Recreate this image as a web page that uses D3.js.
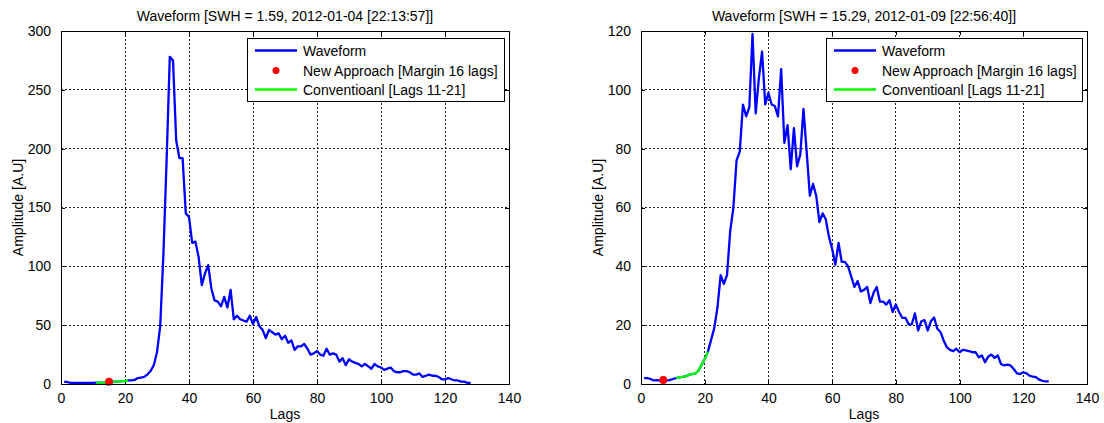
<!DOCTYPE html>
<html>
<head>
<meta charset="utf-8">
<script src="https://cdn.jsdelivr.net/npm/d3@7"></script>
<style>
  html, body { margin: 0; padding: 0; background: #fff; }
  svg { display: block; font-family: "Liberation Sans", Arial, Helvetica, sans-serif; }
</style>
</head>
<body>
<svg id="chart" width="1104" height="423"></svg>
<script>
// ---------------- data ----------------
const lags = d3.range(1, 129);

const leftTitle = "Waveform [SWH = 1.59, 2012-01-04 [22:13:57]]";
const rightTitle = "Waveform [SWH = 15.29, 2012-01-09 [22:56:40]]";

const xTicks = [0, 20, 40, 60, 80, 100, 120, 140];
const leftYTicks = [0, 50, 100, 150, 200, 250, 300];
const rightYTicks = [0, 20, 40, 60, 80, 100, 120];

const leftWave = [
  2, 1.5, 1, 1, 1, 1, 1, 1, 1, 1,
  1.2, 1.2, 1.2, 1.2, 2, 2, 2, 2, 2.5, 2.5,
  3, 3, 3.5, 5, 5.5, 6, 8, 11, 16, 27,
  49, 110, 190, 278, 275, 207, 192, 192, 145, 142,
  120, 121, 108, 84, 94, 101, 81, 71, 70, 66,
  74, 65, 80, 55, 58, 55, 54, 53, 58, 51,
  57, 49, 46, 39, 46, 44, 42, 43, 38, 41,
  35, 37, 29, 32, 32, 34, 30, 25, 26, 28,
  25, 24, 30, 25, 26, 25, 19, 22, 16, 21,
  19, 18, 17, 15, 17, 15, 13, 17, 15, 14,
  12, 13, 14, 11, 10, 10, 11, 11, 10, 8,
  8, 9, 6, 7, 8, 7, 7, 6, 4, 4,
  5, 4, 3, 3, 2, 2, 1, 1
];

const rightWave = [
  2.0, 2.0, 1.7, 1.2, 1.3, 1.2, 1.4, 1.2, 1.3, 1.7,
  2.0, 2.3, 2.4, 2.6, 3.1, 3.4, 3.5, 4.5, 6.5, 8.5,
  11, 15, 19, 26, 37, 34, 37, 52, 60, 76,
  79, 95, 91, 94, 119, 92, 104, 113, 95, 99,
  95, 94.5, 91, 107, 82, 88, 73, 87, 74, 78,
  93.5, 79, 64, 68, 64, 55, 58, 56, 50, 46,
  40.5, 48, 41.5, 41.5, 40, 36.5, 33, 35, 31.5, 32,
  33, 27.5, 31, 33, 28, 28, 27, 28.5, 24.5, 27,
  24.5, 22.5, 22.5, 20.3, 20.3, 24, 18.2, 21.3, 21.7, 18.2,
  21.3, 22.6, 18.8, 17.7, 14.8, 12.5, 11.6, 11.2, 12, 10.8,
  11.6, 11.4, 11.2, 10.8, 10.8, 9.1, 9.7, 7.4, 9.3, 10,
  8.9, 9.7, 6.8, 6.3, 6.6, 6.3, 5.1, 3.6, 3.4, 4,
  3.6, 2.8, 2.5, 2.3, 1.5, 1.1, 0.9, 0.9
];

const conventionalLags = [11, 21];
const leftNewApproach = { lag: 15, value: 2 };
const rightNewApproach = { lag: 7, value: 1.4 };

const legendLabels = ["Waveform", "New Approach [Margin 16 lags]", "Conventioanl [Lags 11-21]"];
const xLabel = "Lags";
const yLabel = "Amplitude [A.U]";

// ---------------- drawing ----------------
const svg = d3.select("#chart");
const FS = 14;

function drawPanel(opt) {
  const { left, right, top, bottom, yMax, yTicks, values, title, dot, legendLeft } = opt;
  const x = d3.scaleLinear().domain([0, 140]).range([left, right]);
  const y = d3.scaleLinear().domain([0, yMax]).range([bottom, top]);
  const g = svg.append("g");

  g.append("rect").attr("x", left).attr("y", top)
    .attr("width", right - left).attr("height", bottom - top).attr("fill", "#fff");

  // grid
  g.append("g").selectAll("line").data(xTicks.filter(t => t > 0 && t < 140)).join("line")
    .attr("x1", d => x(d)).attr("x2", d => x(d)).attr("y1", top).attr("y2", bottom)
    .attr("stroke", "#000").attr("stroke-width", 0.9).attr("stroke-dasharray", "2,2")
    .attr("shape-rendering", "crispEdges");
  g.append("g").selectAll("line").data(yTicks.filter(t => t > 0 && t < yMax)).join("line")
    .attr("y1", d => y(d)).attr("y2", d => y(d)).attr("x1", left).attr("x2", right)
    .attr("stroke", "#000").attr("stroke-width", 0.9).attr("stroke-dasharray", "2,2")
    .attr("shape-rendering", "crispEdges");

  // axes
  const ax = g.append("g").attr("transform", `translate(0,${bottom})`)
    .call(d3.axisBottom(x).tickValues(xTicks).tickSize(-4).tickPadding(9).tickFormat(d3.format("d")));
  const axTop = g.append("g").attr("transform", `translate(0,${top})`)
    .call(d3.axisTop(x).tickValues(xTicks).tickSize(-4).tickFormat(""));
  const ay = g.append("g").attr("transform", `translate(${left},0)`)
    .call(d3.axisLeft(y).tickValues(yTicks).tickSize(-4).tickPadding(10).tickFormat(d3.format("d")));
  const ayR = g.append("g").attr("transform", `translate(${right},0)`)
    .call(d3.axisRight(y).tickValues(yTicks).tickSize(-4).tickFormat(""));
  [ax, axTop, ay, ayR].forEach(a => {
    a.select(".domain").remove();
    a.selectAll(".tick line").attr("stroke", "#000").attr("shape-rendering", "crispEdges");
    a.selectAll(".tick text").attr("font-size", FS).attr("fill", "#000")
      .attr("font-family", "'Liberation Sans', Arial, sans-serif");
  });

  // waveform
  const line = d3.line().x((d, i) => x(lags[i])).y(d => y(d));
  g.append("path").datum(values).attr("d", line)
    .attr("fill", "none").attr("stroke", "#0000ff").attr("stroke-width", 2.3)
    .attr("stroke-linejoin", "round");

  // conventional segment
  const segIdx = lags.map((l, i) => i).filter(i => lags[i] >= conventionalLags[0] && lags[i] <= conventionalLags[1]);
  const seg = segIdx.map(i => values[i]);
  const segLine = d3.line().x((d, k) => x(lags[segIdx[k]])).y(d => y(d));
  g.append("path").datum(seg).attr("d", segLine)
    .attr("fill", "none").attr("stroke", "#00ff00").attr("stroke-width", 2.3)
    .attr("stroke-linejoin", "round");

  // new approach dot
  g.append("circle").attr("cx", x(dot.lag)).attr("cy", y(dot.value)).attr("r", 4)
    .attr("fill", "#ff0000");

  // box
  g.append("rect").attr("x", left).attr("y", top)
    .attr("width", right - left).attr("height", bottom - top)
    .attr("fill", "none").attr("stroke", "#000").attr("stroke-width", 1)
    .attr("shape-rendering", "crispEdges");

  // title & labels
  g.append("text").attr("x", (left + right) / 2).attr("y", 21).attr("text-anchor", "middle")
    .attr("font-size", FS).attr("fill", "#000").text(title);
  g.append("text").attr("x", (left + right) / 2).attr("y", 419).attr("text-anchor", "middle")
    .attr("font-size", FS).attr("fill", "#000").text(xLabel);
  g.append("text").attr("transform", `translate(${left - 38},${(top + bottom) / 2}) rotate(-90)`)
    .attr("text-anchor", "middle").attr("font-size", FS).attr("fill", "#000").text(yLabel);

  // legend
  const lx = legendLeft, ly = top + 7, lw = right - 5 - legendLeft, lh = 63;
  const lg = g.append("g");
  lg.append("rect").attr("x", lx).attr("y", ly).attr("width", lw).attr("height", lh)
    .attr("fill", "#fff").attr("stroke", "#000").attr("stroke-width", 1)
    .attr("shape-rendering", "crispEdges");
  const rowsY = [ly + 12.5, ly + 32.5, ly + 51.5];
  const colors = ["#0000ff", "#ff0000", "#00ff00"];
  legendLabels.forEach((lab, i) => {
    if (i === 1) {
      lg.append("circle").attr("cx", lx + 29).attr("cy", rowsY[i]).attr("r", 3.5).attr("fill", colors[i]);
    } else {
      lg.append("line").attr("x1", lx + 8).attr("x2", lx + 50).attr("y1", rowsY[i]).attr("y2", rowsY[i])
        .attr("stroke", colors[i]).attr("stroke-width", 2.3);
    }
    lg.append("text").attr("x", lx + 56).attr("y", rowsY[i] + 5)
      .attr("font-size", FS).attr("fill", "#000").text(lab);
  });
}

drawPanel({ left: 61, right: 509, top: 31, bottom: 384, yMax: 300, yTicks: leftYTicks,
  values: leftWave, title: leftTitle, dot: leftNewApproach, legendLeft: 247 });
drawPanel({ left: 641, right: 1087, top: 31, bottom: 384, yMax: 120, yTicks: rightYTicks,
  values: rightWave, title: rightTitle, dot: rightNewApproach, legendLeft: 826 });
</script>
</body>
</html>
